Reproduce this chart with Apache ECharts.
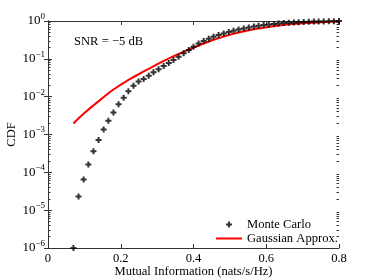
<!DOCTYPE html>
<html>
<head>
<meta charset="utf-8">
<script src="https://cdn.jsdelivr.net/npm/echarts@6/dist/echarts.min.js"></script>
<style>html,body{margin:0;padding:0;background:#fff;}#c{width:374px;height:280px;}</style>
</head>
<body>
<div id="c"></div>
<script>
// Monte Carlo samples
var mcX = [0.070,0.084,0.098,0.111,0.125,0.139,0.153,0.166,0.180,0.194,0.208,0.221,0.235,0.249,0.263,0.277,0.290,0.304,0.318,0.332,0.345,0.359,0.373,0.387,0.400,0.414,0.428,0.442,0.455,0.469,0.483,0.497,0.510,0.524,0.538,0.552,0.566,0.579,0.593,0.607,0.621,0.634,0.648,0.662,0.676,0.689,0.703,0.717,0.731,0.744,0.758,0.772,0.786,0.800];
var mcY = [1e-6,2.3e-5,6.5e-5,1.6e-4,3.6e-4,7.2e-4,1.36e-3,2.3e-3,3.8e-3,6.3e-3,9.3e-3,0.0138,0.0195,0.0251,0.0292,0.0357,0.0439,0.0527,0.0645,0.0774,0.093,0.114,0.140,0.171,0.209,0.254,0.296,0.338,0.382,0.426,0.470,0.512,0.554,0.596,0.637,0.677,0.715,0.751,0.784,0.813,0.838,0.859,0.880,0.896,0.913,0.930,0.941,0.953,0.964,0.970,0.976,0.982,0.988,0.994];
// Gaussian approximation
var gaX = [0.07,0.10,0.143,0.18,0.225,0.27,0.317,0.363,0.418,0.48,0.53,0.577,0.63,0.693,0.75,0.80];
var gaY = [1.96e-3,3.7e-3,8.1e-3,0.0155,0.029,0.05,0.087,0.14,0.232,0.38,0.51,0.63,0.75,0.86,0.93,0.99];
var xTicks = [0,0.2,0.4,0.6,0.8];
var yMinorTicks = [2e-6,3e-6,4e-6,5e-6,6e-6,7e-6,8e-6,9e-6,
  2e-5,3e-5,4e-5,5e-5,6e-5,7e-5,8e-5,9e-5,
  2e-4,3e-4,4e-4,5e-4,6e-4,7e-4,8e-4,9e-4,
  2e-3,3e-3,4e-3,5e-3,6e-3,7e-3,8e-3,9e-3,
  0.02,0.03,0.04,0.05,0.06,0.07,0.08,0.09,
  0.2,0.3,0.4,0.5,0.6,0.7,0.8,0.9];
var seriesNames = ['Monte Carlo','Gaussian Approx.'];
var annotation = 'SNR = \u22125 dB';
var xTitle = 'Mutual Information (nats/s/Hz)';
var yTitle = 'CDF';

var font = 'Liberation Serif';
var axisCol = '#333';
function zip(a,b){return a.map(function(v,i){return [v,b[i]];});}
function yFmt(v){
  var e = Math.round(Math.log10(v));
  var s = e < 0 ? '\u2212' + (-e) : '' + e;
  return '{b|10}{s|' + s + '}';
}
var plus = 'path://M2,0H4V2H6V4H4V6H2V4H0V2H2Z';
var lineIcon = 'path://M0,0H26V2H0Z';
function minorAxis(pos){
  return {
    type:'log',logBase:10,min:1e-6,max:1,position:pos,
    axisLine:{show:false},
    axisTick:{show:true,inside:true,length:2.5,customValues:yMinorTicks,lineStyle:{color:axisCol}},
    axisLabel:{show:false},splitLine:{show:false}
  };
}
var chart = echarts.init(document.getElementById('c'), null, {renderer:'canvas'});
chart.setOption({
  animation:false,
  backgroundColor:'#fff',
  textStyle:{fontFamily:font,color:'#000'},
  grid:{left:48,right:35,top:21,bottom:32,outerBoundsMode:'none',containLabel:false},
  xAxis:[{
    type:'value',min:0,max:0.8,interval:0.2,
    name:xTitle,nameLocation:'middle',nameGap:17,nameMoveOverlap:false,
    nameTextStyle:{fontFamily:font,fontSize:12.6,color:'#000'},
    axisLine:{lineStyle:{color:axisCol,width:1}},
    axisTick:{inside:true,length:4,lineStyle:{color:axisCol}},
    axisLabel:{fontFamily:font,fontSize:12.6,color:'#000',margin:4,
      formatter:function(v){return xTicks.indexOf(+v.toFixed(1))>=0? String(+v.toFixed(1)) : '';}},
    splitLine:{show:false}
  },{
    type:'value',min:0,max:0.8,interval:0.2,position:'top',
    axisLine:{lineStyle:{color:axisCol,width:1}},
    axisTick:{inside:true,length:4,lineStyle:{color:axisCol}},
    axisLabel:{show:false},splitLine:{show:false}
  }],
  yAxis:[{
    type:'log',logBase:10,min:1e-6,max:1,interval:1,position:'left',
    name:yTitle,nameLocation:'middle',nameGap:30,nameRotate:90,nameMoveOverlap:false,
    nameTextStyle:{fontFamily:font,fontSize:12.6,color:'#000'},
    axisLine:{show:true,lineStyle:{color:axisCol,width:1}},
    axisTick:{inside:true,length:4,lineStyle:{color:axisCol}},
    axisLabel:{margin:3,formatter:yFmt,rich:{
      b:{fontFamily:font,fontSize:13,color:'#000'},
      s:{fontFamily:font,fontSize:9,color:'#000',padding:[0,0,9,0]}}},
    splitLine:{show:false}
  },{
    type:'log',logBase:10,min:1e-6,max:1,interval:1,position:'right',
    axisLine:{show:true,lineStyle:{color:axisCol,width:1}},
    axisTick:{inside:true,length:4,lineStyle:{color:axisCol}},
    axisLabel:{show:false},splitLine:{show:false}
  }, minorAxis('left'), minorAxis('right')],
  legend:{
    orient:'vertical',left:211,top:213,itemWidth:26,itemHeight:6,itemGap:1,
    symbolKeepAspect:true,
    textStyle:{fontFamily:font,fontSize:12.6,color:'#000'},
    data:[{name:seriesNames[0],icon:plus},{name:seriesNames[1],icon:lineIcon}]
  },
  graphic:[{type:'text',left:74,top:35,style:{text:annotation,font:'12.6px "Liberation Serif"',fill:'#000'}}],
  series:[{
    name:seriesNames[0],type:'scatter',data:zip(mcX,mcY),
    symbol:plus,symbolSize:6,symbolKeepAspect:true,
    itemStyle:{color:'#000'},clip:false,z:3
  },{
    name:seriesNames[1],type:'line',data:zip(gaX,gaY),smooth:true,
    showSymbol:false,symbol:'none',
    lineStyle:{color:'#ff0000',width:2},itemStyle:{color:'#ff0000'},z:2
  }]
});
</script>
</body>
</html>
